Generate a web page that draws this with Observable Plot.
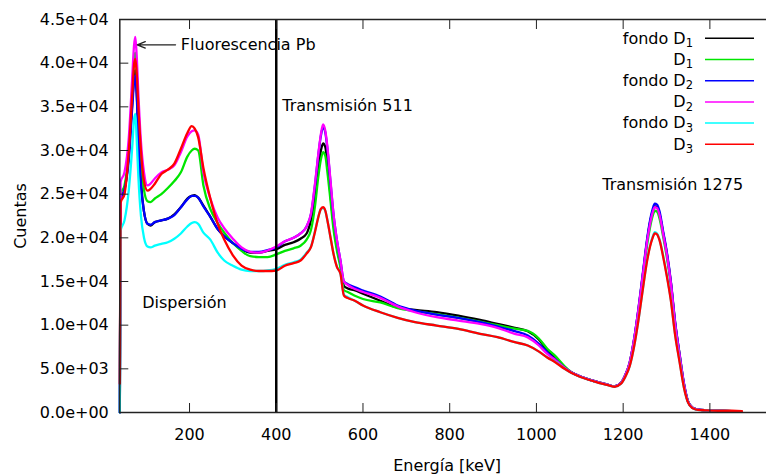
<!DOCTYPE html>
<html>
<head>
<meta charset="utf-8">
<script src="https://cdn.jsdelivr.net/npm/d3@7"></script>
<script src="https://cdn.jsdelivr.net/npm/@observablehq/plot@0.6"></script>
<style>
html, body { margin: 0; padding: 0; background: #fff; overflow: hidden; }
#chart { width: 766px; height: 475px; position: relative; }
</style>
</head>
<body>
<div id="chart"></div>
<script>
// ---------- data ----------
const energy = [39.2, 41, 50, 60, 68, 72, 75, 78, 82, 88, 95, 103, 110, 120, 135, 150, 165, 180, 195, 205,
  212, 220, 232, 248, 265, 280, 300, 320, 340, 360, 380, 400, 420, 440, 456, 470, 480, 490, 497, 503,
  508, 513, 518, 525, 532, 540, 548, 556, 565, 580, 600, 640, 680, 720, 770, 820, 870, 910, 950, 980,
  1005, 1025, 1045, 1065, 1080, 1100, 1120, 1140, 1160, 1180, 1195, 1205, 1215, 1225, 1235, 1245, 1255, 1262, 1268, 1273,
  1278, 1284, 1292, 1300, 1310, 1320, 1330, 1340, 1350, 1360, 1372, 1390, 1420, 1450, 1474];

const fondoD1 = [0, 24500, 25500, 29500, 35500, 38500, 39200, 37000, 32000, 26500, 23000, 21600, 21400, 21800, 22000, 22200, 22700, 23500, 24500, 24800,
  24900, 24600, 23700, 22400, 21000, 20200, 19400, 18700, 18300, 18300, 18500, 18700, 19200, 19500, 19900, 20500, 22000, 25000, 28100, 30000,
  30800, 30400, 28500, 25000, 21600, 18900, 17000, 14500, 14200, 14000, 13600, 12800, 12000, 11750, 11500, 11100, 10600, 10150, 9700, 9300,
  8400, 7100, 6100, 5100, 4600, 4150, 3800, 3500, 3250, 3000, 3400, 4300, 5700, 8300, 11700, 15600, 19600, 21800, 23000, 23600,
  23500, 22700, 20600, 18400, 14900, 10200, 6700, 3300, 1200, 550, 350, 250, 200, 150, null];

const D1 = [0, 25000, 26000, 30000, 37000, 40500, 41200, 39000, 34500, 29000, 25500, 24200, 24100, 24500, 25000, 25700, 26500, 27500, 29300, 30000,
  30200, 30000, 26000, 23300, 21700, 20600, 19400, 18500, 17900, 17800, 17800, 18100, 18500, 18800, 19100, 19800, 20900, 23900, 27000, 29000,
  29800, 29400, 27500, 24300, 21000, 18500, 16600, 14000, 13800, 13400, 13000, 12600, 11950, 11600, 11250, 10850, 10400, 10000, 9600, 9350,
  8500, 7300, 6400, 5300, 4650, 4150, 3800, 3500, 3250, 3000, 3400, 4250, 5600, 8100, 11400, 15200, 19100, 21200, 22500, 23100,
  23000, 22200, 20200, 18000, 14600, 10000, 6500, 3200, 1200, 550, 350, 250, 200, 150, null];

const fondoD2 = [0, 24500, 25500, 29000, 35000, 37800, 38600, 36500, 31500, 26000, 23000, 21600, 21500, 21800, 22000, 22200, 22600, 23500, 24400, 24800,
  24800, 24600, 23600, 22400, 21000, 20200, 19400, 18750, 18400, 18400, 18600, 18900, 19600, 20000, 20500, 21300, 22700, 26300, 29500, 31700,
  32700, 32100, 30200, 26400, 22700, 19700, 17400, 15000, 14700, 14350, 13970, 13280, 12250, 11680, 11220, 10840, 10340, 9850, 9310, 8820,
  7900, 6900, 6000, 5100, 4600, 4150, 3800, 3500, 3250, 3000, 3400, 4300, 5700, 8300, 11800, 15800, 19800, 22000, 23300, 23900,
  23800, 23000, 20800, 18600, 15000, 10300, 6700, 3400, 1200, 550, 350, 250, 200, 150, null];

const D2 = [0, 26400, 27500, 31500, 38500, 42000, 43000, 41000, 36500, 31000, 27500, 26000, 26200, 26800, 27500, 27800, 28300, 29800, 31600, 32200,
  32300, 31800, 27500, 24500, 22300, 21100, 19900, 18900, 18400, 18300, 18550, 19000, 19600, 20000, 20500, 21300, 22750, 26500, 29600, 31900,
  33000, 32300, 30400, 26600, 22750, 19700, 17400, 15000, 14600, 14160, 13800, 13130, 12150, 11480, 10910, 10530, 10150, 9700, 9010, 8600,
  7700, 6700, 5950, 5100, 4600, 4150, 3800, 3500, 3250, 3000, 3400, 4300, 5700, 8300, 11700, 15600, 19500, 21600, 22900, 23500,
  23400, 22600, 20500, 18300, 14800, 10100, 6600, 3300, 1200, 550, 350, 250, 200, 150, null];

const fondoD3 = [0, 20800, 22000, 25500, 30500, 33500, 34200, 31500, 27000, 22500, 20000, 19000, 18900, 19100, 19300, 19500, 19900, 20500, 21300, 21700,
  21800, 21600, 20600, 19800, 18300, 17400, 16800, 16350, 16200, 16200, 16260, 16450, 16900, 17200, 17500, 18300, 19000, 20900, 22400, 23300,
  23400, 23100, 22000, 20100, 18200, 16700, 15900, 13500, 13200, 12820, 12250, 11480, 10840, 10340, 9960, 9580, 9010, 8620, 8050, 7670,
  7000, 6300, 5750, 5000, 4550, 4100, 3750, 3450, 3200, 2950, 3300, 4100, 5300, 7500, 10500, 14000, 17400, 19100, 20100, 20650,
  20500, 19800, 18000, 15900, 12900, 8900, 5900, 2900, 1100, 500, 300, 250, 200, 150, null];

const D3 = [3300, 24000, 25000, 30000, 36500, 39800, 40500, 39000, 35000, 30000, 26500, 25400, 25600, 26200, 27300, 27800, 28500, 30200, 32000, 32800,
  32500, 31500, 28000, 24500, 21600, 19800, 18000, 16830, 16350, 16200, 16200, 16260, 16800, 17100, 17400, 18200, 18930, 20840, 22360, 23320,
  23500, 23130, 21980, 20070, 18170, 16640, 15880, 13400, 13100, 12820, 12250, 11480, 10840, 10340, 9960, 9580, 9010, 8620, 8050, 7670,
  7000, 6300, 5700, 5000, 4550, 4100, 3750, 3450, 3200, 2950, 3300, 4100, 5300, 7500, 10500, 14000, 17300, 19000, 20000, 20500,
  20400, 19700, 17900, 15800, 12800, 8800, 5800, 2900, 1100, 500, 300, 250, 200, 200, 150];

const seriesNames = ["fondo D1", "D1", "fondo D2", "D2", "fondo D3", "D3"];
const seriesValues = [fondoD1, D1, fondoD2, D2, fondoD3, D3];
const seriesColors = ["#000000", "#00e600", "#0000ff", "#ff00ff", "#00ffff", "#ff0000"];
const legendMain = ["fondo D", "D", "fondo D", "D", "fondo D", "D"];
const legendSub = ["1", "1", "2", "2", "3", "3"];

const xTicks = [200, 400, 600, 800, 1000, 1200, 1400];
const yTicks = [0, 5000, 10000, 15000, 20000, 25000, 30000, 35000, 40000, 45000];

const markerEnergy = [400];

const annotLabels = ["Fluorescencia Pb", "Transmisión 511", "Dispersión", "Transmisión 1275"];
const annotX = [180, 413.8, 90.9, 1151.8];
const annotY = [42050, 35060, 12540, 26050];

const arrowFrom = [167.7];
const arrowTo = [79.4];
const arrowLevel = [42100];

// ---------- helpers ----------
function sci(d) {
  const [m, e] = d.toExponential(1).split("e");
  const n = Math.abs(+e);
  return m + "e" + (+e < 0 ? "-" : "+") + String(n).padStart(2, "0");
}

const lineMarks = seriesNames.map((name, s) => {
  const rows = energy.map((e, i) => ({energy: e, counts: seriesValues[s][i]}))
    .filter(d => d.counts != null);
  return Plot.line(rows, {x: "energy", y: "counts", stroke: seriesColors[s], strokeWidth: 2.3, curve: "monotone-x"});
});

const arrowData = arrowFrom.map((x1, i) => ({x1, x2: arrowTo[i], y: arrowLevel[i]}));

const plot = Plot.plot({
  width: 766,
  height: 475,
  marginLeft: 119.3,
  marginRight: -8,
  marginTop: 19,
  marginBottom: 63,
  style: {fontFamily: "'DejaVu Sans', sans-serif", fontSize: "16px", background: "white", color: "black", overflow: "visible"},
  x: {domain: [39.2, 1549]},
  y: {domain: [0, 45000]},
  marks: [
    ...lineMarks,
    Plot.ruleX(markerEnergy, {stroke: "black", strokeWidth: 2.5}),
    Plot.frame({stroke: "#222", strokeWidth: 1.5}),
    Plot.axisX({anchor: "bottom", ticks: xTicks, tickSize: -9, tickPadding: 25, tickFormat: d => String(d), label: null, stroke: "#222"}),
    Plot.axisX({anchor: "top", ticks: xTicks, tickSize: -9, tickFormat: () => "", label: null, stroke: "#222"}),
    Plot.axisY({anchor: "left", ticks: yTicks, tickSize: -9, tickPadding: 20, tickFormat: sci, label: null, stroke: "#222"}),
    Plot.axisY({anchor: "right", ticks: yTicks, tickSize: -9, tickFormat: () => "", label: null, stroke: "#222"}),
    Plot.text(annotLabels, {x: annotX, y: annotY, textAnchor: "start", lineAnchor: "middle", fontSize: 16, fill: "black"}),
    Plot.arrow(arrowData, {x1: "x1", y1: "y", x2: "x2", y2: "y", stroke: "#222", strokeWidth: 1.3, headLength: 10, headAngle: 44}),
    Plot.text(["Cuentas"], {frameAnchor: "left", dx: -99.4, rotate: -90, lineAnchor: "middle", textAnchor: "middle", fontSize: 16, fill: "black"}),
    Plot.text(["Energía [keV]"], {frameAnchor: "bottom", dy: 53, lineAnchor: "middle", textAnchor: "middle", fontSize: 16, fill: "black"})
  ]
});

// ---------- legend inside the plot (top right) ----------
const legendTop = 38.3, legendStep = 21.2, legendTextRight = 693, legendLineX1 = 705, legendLineX2 = 754;
const lg = d3.select(plot).append("g")
  .attr("font-family", "'DejaVu Sans', sans-serif")
  .attr("font-size", 16)
  .attr("fill", "black");
seriesNames.forEach((name, i) => {
  const y = legendTop + i * legendStep;
  const t = lg.append("text").attr("x", legendTextRight).attr("y", y + 5.3).attr("text-anchor", "end");
  t.append("tspan").text(legendMain[i]);
  t.append("tspan").attr("font-size", 11.5).attr("dy", 3.4).text(legendSub[i]);
  lg.append("line").attr("x1", legendLineX1).attr("x2", legendLineX2).attr("y1", y).attr("y2", y)
    .attr("stroke", seriesColors[i]).attr("stroke-width", 1.5);
});

document.getElementById("chart").appendChild(plot);
</script>
</body>
</html>
